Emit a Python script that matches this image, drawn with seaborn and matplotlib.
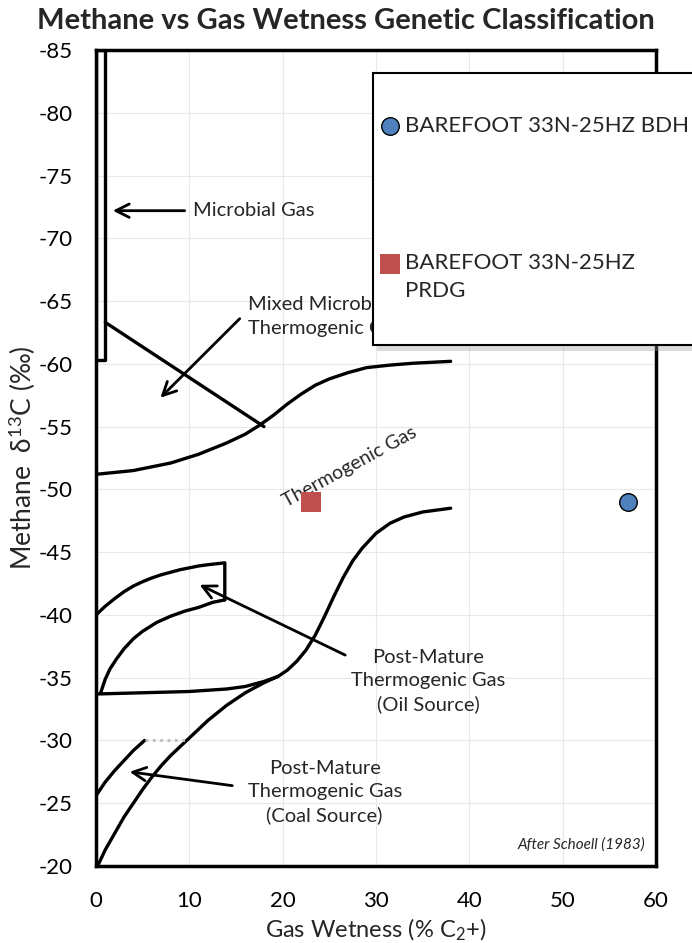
import numpy as np
import pandas as pd
import matplotlib
matplotlib.use("Agg")
import matplotlib.pyplot as plt
import matplotlib.patheffects as pe
from matplotlib.patches import Rectangle
import seaborn as sns

# ---------------- data ----------------
sample_names = ["BAREFOOT 33N-25HZ BDH", "BAREFOOT 33N-25HZ\nPRDG"]
gas_wetness = [57.0, 23.0]
methane_d13c = [-49.0, -49.0]
sample_colors = ["#4f81bd", "#c0504d"]
sample_markers = ["o", "s"]

x_ticks = [0, 10, 20, 30, 40, 50, 60]
y_ticks = [-85, -80, -75, -70, -65, -60, -55, -50, -45, -40, -35, -30, -25, -20]

# classification boundaries
microbial_x = [0, 0, 1, 1, 0]
microbial_y = [-85, -60.3, -60.3, -85, -85]

mixed_x = [1, 18]
mixed_y = [-63.3, -55.0]

thermo_upper_x = [0, 4, 8, 11, 14, 16, 17.5, 19, 20.5, 22, 23.5, 25, 27, 29, 31.5, 34, 38]
thermo_upper_y = [-51.2, -51.5, -52.1, -52.8, -53.7, -54.4, -55.1, -55.9, -56.8, -57.6, -58.3, -58.8,
                  -59.3, -59.7, -59.9, -60.05, -60.2]

thermo_lower_x = [0, 5, 10, 14, 16, 18, 19.5, 20.5, 21.5, 22.5, 23.5, 24.5, 25.5, 26.5, 27.5, 28.5,
                  30, 31.5, 33, 35, 38]
thermo_lower_y = [-33.7, -33.8, -33.9, -34.1, -34.3, -34.7, -35.1, -35.6, -36.3, -37.2, -38.4, -39.9,
                  -41.5, -43.0, -44.3, -45.3, -46.5, -47.3, -47.8, -48.2, -48.5]

oil_top_x = [0, 1, 2, 3, 4, 5, 6, 7, 8, 9, 10, 11, 12, 13.8, 13.8]
oil_top_y = [-40.0, -40.7, -41.3, -41.85, -42.3, -42.65, -42.95, -43.2, -43.4, -43.6, -43.75, -43.9,
             -44.0, -44.15, -41.2]

oil_inner_x = [13.8, 12.5, 11, 9.5, 8, 6.5, 5, 4, 3, 2.2, 1.5, 1, 0.5]
oil_inner_y = [-41.2, -41.0, -40.6, -40.3, -39.9, -39.4, -38.7, -38.1, -37.3, -36.5, -35.7, -34.9, -33.8]

coal_lower_x = [0.3, 1, 2, 3, 4, 5, 6, 7, 8, 9, 10, 11, 12, 13, 14, 15, 16, 17, 18, 19.5]
coal_lower_y = [-20.2, -21.3, -22.6, -23.9, -25.0, -26.1, -27.1, -28.0, -28.8, -29.5, -30.2, -30.9,
                -31.6, -32.2, -32.8, -33.3, -33.8, -34.2, -34.6, -35.1]

coal_upper_x = [0, 1, 2, 3, 4, 5.2]
coal_upper_y = [-25.6, -26.7, -27.6, -28.4, -29.2, -30.0]

coal_cap_x = [5.2, 9.8]
coal_cap_y = [-30.0, -30.0]

# ---------------- style ----------------
sns.set_style("white")
plt.rcParams["font.family"] = ["Lato", "DejaVu Sans"]
plt.rcParams["axes.unicode_minus"] = False
plt.rcParams["mathtext.fontset"] = "custom"
plt.rcParams["mathtext.rm"] = "Lato"
plt.rcParams["mathtext.it"] = "Lato:italic"

fig = plt.figure(figsize=(6.92, 9.43), dpi=100)
ax = fig.add_axes([96 / 692, 1 - 866 / 943, (656 - 96) / 692, (866 - 50) / 943])

LW = 2.4
def curve(xs, ys, **kw):
    opts = dict(color="black", lw=LW, sort=False, estimator=None, ax=ax, legend=False)
    opts.update(kw)
    sns.lineplot(x=xs, y=ys, **opts)

curve(microbial_x, microbial_y)
curve(mixed_x, mixed_y)
curve(thermo_upper_x, thermo_upper_y)
curve(thermo_lower_x, thermo_lower_y)
curve(oil_top_x, oil_top_y)
curve(oil_inner_x, oil_inner_y)
curve(coal_lower_x, coal_lower_y)
curve(coal_upper_x, coal_upper_y)
curve(coal_cap_x, coal_cap_y, color="#bdbdbd", lw=2.0, linestyle=":")

# samples
for name, xv, yv, col, mk in zip(sample_names, gas_wetness, methane_d13c, sample_colors, sample_markers):
    sns.scatterplot(x=[xv], y=[yv], ax=ax, color=col, marker=mk, s=190 if mk == "s" else 160,
                    edgecolor="black" if mk == "o" else col, linewidth=1.0 if mk == "o" else 0,
                    label=name, zorder=5)

# arrows
arrow_kw = dict(arrowstyle="->", lw=2.0, color="black", mutation_scale=24, shrinkA=0, shrinkB=0)
ax.annotate("", xy=(1.8, -72.2), xytext=(9.5, -72.2), arrowprops=arrow_kw)
ax.annotate("", xy=(6.9, -57.3), xytext=(15.4, -63.6), arrowprops=arrow_kw)
ax.annotate("", xy=(11.1, -42.4), xytext=(26.7, -36.8), arrowprops=arrow_kw)
ax.annotate("", xy=(3.6, -27.5), xytext=(14.6, -26.4), arrowprops=arrow_kw)

tc = "#262626"
FS = 14.5
ax.text(10.4, -72.2, "Microbial Gas", fontsize=FS, color=tc, va="center", ha="left")
ax.text(16.3, -63.8, "Mixed Microbial &\nThermogenic Gas", fontsize=FS, color=tc, va="center", ha="left",
        linespacing=1.5)
ax.text(27.2, -51.8, "Thermogenic Gas", fontsize=14, color=tc, va="center", ha="center", rotation=28.5)
ax.text(35.6, -34.7, "Post-Mature\nThermogenic Gas\n(Oil Source)", fontsize=FS, color=tc,
        va="center", ha="center", linespacing=1.42)
ax.text(24.5, -25.9, "Post-Mature\nThermogenic Gas\n(Coal Source)", fontsize=FS, color=tc,
        va="center", ha="center", linespacing=1.42)
ax.text(58.8, -21.7, "After Schoell (1983)", fontsize=11, style="italic", color=tc,
        va="center", ha="right")

# axes
ax.set_xlim(0, 60)
ax.set_ylim(-20, -85)
ax.set_xticks(x_ticks)
ax.set_yticks(y_ticks)
ax.set_xticklabels([str(v) for v in x_ticks])
ax.set_yticklabels([str(v) for v in y_ticks])
ax.xaxis.set_minor_locator(matplotlib.ticker.MultipleLocator(2))
ax.yaxis.set_minor_locator(matplotlib.ticker.MultipleLocator(2.5))
ax.tick_params(axis="both", which="major", direction="in", length=7, width=2, labelsize=16, colors="black")
ax.tick_params(axis="both", which="minor", direction="in", length=5, width=2)
ax.tick_params(axis="x", which="major", pad=18)
ax.tick_params(axis="y", which="major", pad=17)
ax.tick_params(top=False, right=False, which="both")
ax.grid(True, which="major", color="#e8e8e8", lw=0.8)
for sp in ax.spines.values():
    sp.set_visible(True)
    sp.set_color("black")
    sp.set_linewidth(2.5)
ax.set_xlabel("Gas Wetness (% C$_2$+)", fontsize=17, labelpad=4)
ax.set_ylabel("Methane  δ$^{13}$C (‰)", fontsize=19, labelpad=0)
fig.text(0.5, 1 - 21 / 943, "Methane vs Gas Wetness Genetic Classification", fontsize=21,
         fontweight="bold", ha="center", va="center")

# legend box with shadow (extends beyond right edge as in reference)
box = Rectangle((373 / 692, 1 - 345 / 943), 0.6, (345 - 73) / 943, transform=fig.transFigure,
                facecolor="white", edgecolor="black", lw=1.5, zorder=8,
                path_effects=[pe.SimplePatchShadow(offset=(3, -4), shadow_rgbFace="#999999", alpha=0.35),
                              pe.Normal()])
fig.add_artist(box)
handles, labels = ax.get_legend_handles_labels()
if ax.get_legend() is not None:
    ax.get_legend().remove()
leg = fig.legend(handles, labels, loc="upper left", bbox_to_anchor=(381 / 692, 1 - 116 / 943),
                 frameon=False, borderpad=0, borderaxespad=0, labelspacing=5.25, handletextpad=0.3,
                 handlelength=0.8, fontsize=16)
leg.set_zorder(9)
for t in leg.get_texts():
    t.set_linespacing(1.55)
# align second marker with the first text line
hs = leg.legend_handles[1]
offs = np.array(hs.get_offsets())
offs[:, 1] += 10.8
hs.set_offsets(offs)

fig.savefig("out.png", dpi=100)
